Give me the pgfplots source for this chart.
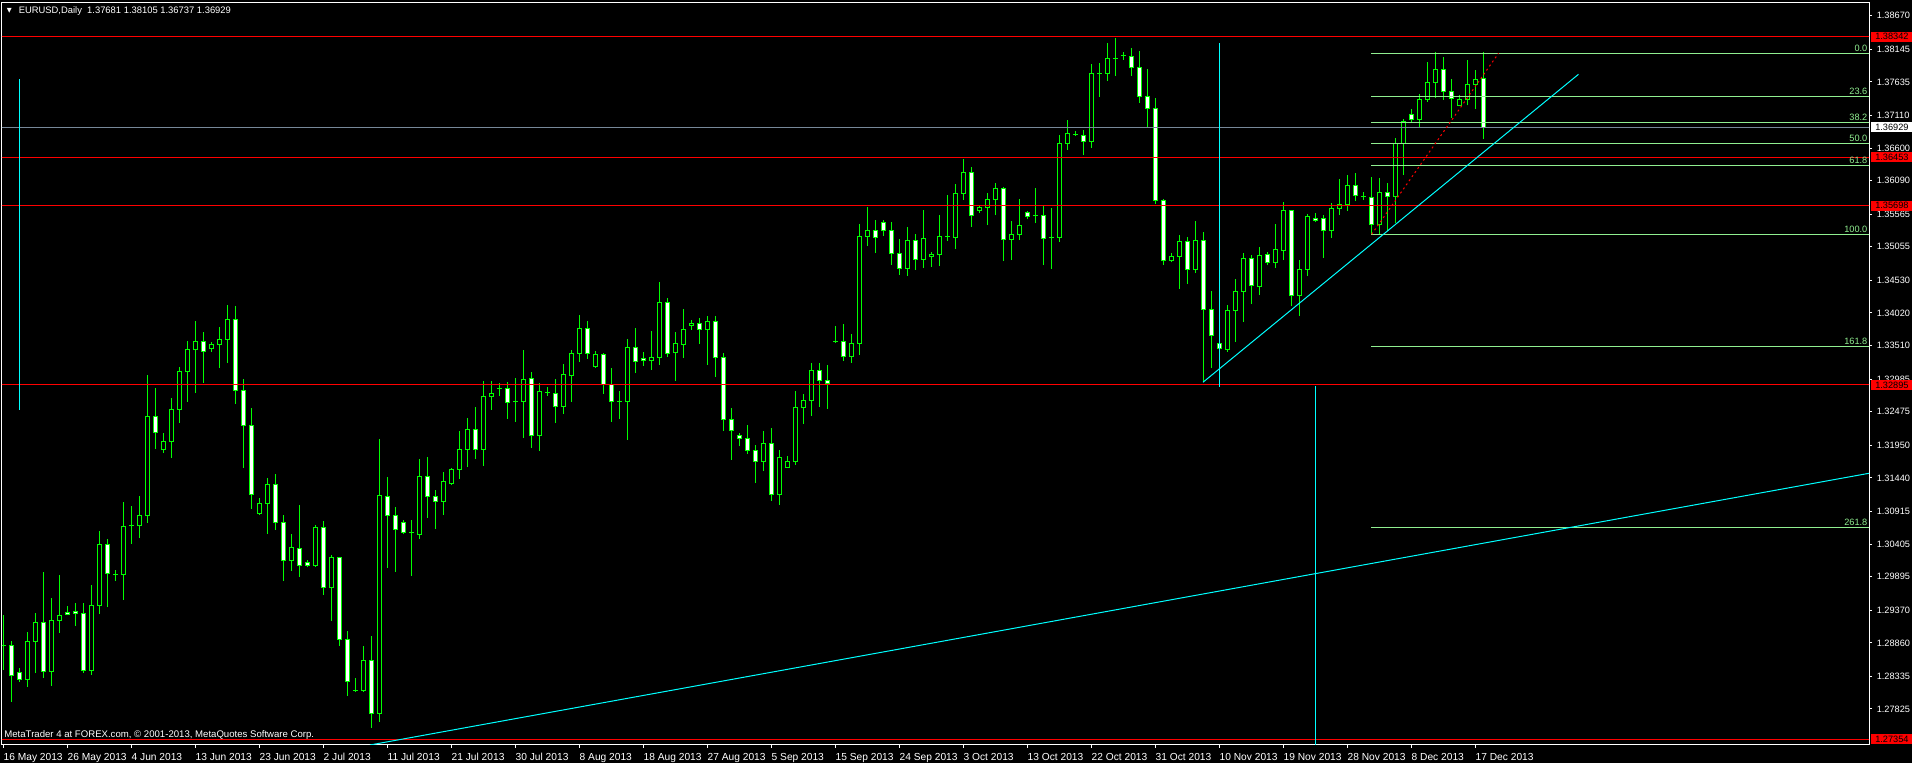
\documentclass[border=0pt]{standalone}
\usepackage{fontspec}
\setmainfont{Liberation Sans}
\newfontfamily\dejavu{DejaVu Sans}
\usepackage{pgfplots}
\usepackage{pgfplotstable}
\pgfplotsset{compat=1.18}
\definecolor{cgreen}{RGB}{0,255,0}
\definecolor{fibgreen}{RGB}{144,238,144}
\definecolor{mtred}{RGB}{255,0,0}
\definecolor{bidgray}{RGB}{119,136,153}
\definecolor{tcyan}{RGB}{0,255,255}
\newcommand{\lblfont}{\fontsize{4.6}{5}\selectfont}
\newcommand{\datefont}{\fontsize{5.1}{5.5}\selectfont}

\pgfplotstableread{
x o h l c
0 1.28815 1.29295 1.28435 1.28815
3 1.28290 1.29029 1.28174 1.28884
4 1.28884 1.29327 1.28393 1.29181
6 1.28415 1.29562 1.28189 1.29212
7 1.29206 1.29922 1.29019 1.29291
11 1.28430 1.29765 1.28357 1.29447
12 1.29447 1.30610 1.29316 1.30402
14 1.29927 1.30000 1.29828 1.29927
15 1.29927 1.31064 1.29535 1.30684
16 1.30693 1.31001 1.30407 1.30693
17 1.30693 1.31157 1.30505 1.30856
18 1.30849 1.33050 1.30740 1.32404
20 1.31882 1.32138 1.31835 1.32013
21 1.32007 1.32690 1.31756 1.32514
22 1.32514 1.33170 1.32304 1.33108
23 1.33101 1.33582 1.32632 1.33452
24 1.33446 1.33895 1.32773 1.33577
26 1.33467 1.33561 1.33410 1.33530
27 1.33530 1.33801 1.33164 1.33608
28 1.33608 1.34145 1.33242 1.33921
32 1.30881 1.31121 1.30860 1.31043
33 1.31037 1.31439 1.30568 1.31340
36 1.30152 1.30563 1.29989 1.30355
39 1.30067 1.30704 1.30052 1.30668
41 1.29723 1.30235 1.29202 1.30199
44 1.28111 1.28305 1.28096 1.28111
45 1.28111 1.28810 1.28096 1.28587
47 1.27758 1.32044 1.27627 1.31168
51 1.30584 1.30777 1.29911 1.30584
52 1.30558 1.31736 1.30490 1.31465
55 1.31075 1.31533 1.30865 1.31387
56 1.31356 1.31595 1.31334 1.31575
57 1.31575 1.32174 1.31428 1.31888
58 1.31888 1.32373 1.31616 1.32201
60 1.31888 1.32951 1.31631 1.32717
61 1.32717 1.32951 1.32507 1.32753
62 1.32846 1.32920 1.32721 1.32846
64 1.32628 1.33003 1.32315 1.32628
65 1.32632 1.33441 1.32065 1.32983
67 1.32101 1.32920 1.31861 1.32795
68 1.32773 1.32862 1.32726 1.32773
70 1.32554 1.33222 1.32440 1.33061
71 1.33039 1.33441 1.32628 1.33389
72 1.33389 1.33988 1.33253 1.33780
74 1.33180 1.33425 1.33159 1.33374
77 1.32639 1.32800 1.32362 1.32639
78 1.32632 1.33613 1.32033 1.33483
81 1.33274 1.33738 1.33128 1.33327
82 1.33327 1.34504 1.33211 1.34187
84 1.33399 1.33718 1.32961 1.33546
85 1.33524 1.34082 1.33320 1.33765
86 1.33827 1.33910 1.33754 1.33859
88 1.33758 1.33973 1.33211 1.33890
95 1.31694 1.32174 1.31553 1.31982
97 1.31178 1.31877 1.31021 1.31763
98 1.31606 1.31783 1.31595 1.31700
99 1.31700 1.32800 1.31642 1.32545
100 1.32539 1.32753 1.32288 1.32654
101 1.32654 1.33238 1.32413 1.33123
104 1.33571 1.33816 1.33555 1.33571
106 1.33336 1.33691 1.33242 1.33546
107 1.33546 1.35412 1.33367 1.35219
108 1.35219 1.35678 1.35072 1.35313
113 1.34719 1.35365 1.34603 1.35157
115 1.34859 1.35631 1.34728 1.35188
116 1.34906 1.34974 1.34744 1.34938
117 1.34938 1.35552 1.34759 1.35219
118 1.35219 1.35861 1.35150 1.35219
119 1.35204 1.36038 1.35025 1.35893
120 1.35893 1.36424 1.35792 1.36221
122 1.35626 1.35704 1.35588 1.35673
123 1.35667 1.35893 1.35396 1.35799
124 1.35799 1.36054 1.35552 1.35971
126 1.35172 1.35459 1.34848 1.35250
127 1.35250 1.35803 1.35161 1.35391
129 1.35537 1.35975 1.35427 1.35537
131 1.35197 1.35662 1.34712 1.35197
132 1.35197 1.36805 1.35135 1.36675
133 1.36675 1.37039 1.36575 1.36831
134 1.36809 1.36862 1.36789 1.36809
136 1.36706 1.37915 1.36606 1.37769
137 1.37769 1.37931 1.37403 1.37769
138 1.37769 1.38243 1.37654 1.38004
139 1.38004 1.38317 1.37732 1.38004
140 1.38045 1.38098 1.37982 1.38045
146 1.34844 1.34953 1.34812 1.34906
147 1.34906 1.35240 1.34400 1.35141
149 1.34703 1.35459 1.34650 1.35157
153 1.33452 1.34140 1.33410 1.34062
154 1.34056 1.34551 1.33571 1.34359
155 1.34353 1.34958 1.33884 1.34875
157 1.34431 1.35052 1.34301 1.34922
159 1.34806 1.35412 1.34723 1.35016
160 1.34994 1.35756 1.34848 1.35626
162 1.34290 1.34848 1.33977 1.34703
163 1.34703 1.35563 1.34603 1.35532
166 1.35307 1.35740 1.35197 1.35657
167 1.35657 1.36116 1.35552 1.35720
168 1.35720 1.36179 1.35620 1.36018
170 1.35839 1.35908 1.35787 1.35839
172 1.35407 1.36132 1.35244 1.35908
174 1.35846 1.36758 1.35423 1.36675
175 1.36675 1.37050 1.36184 1.37019
177 1.37044 1.37441 1.36919 1.37363
178 1.37363 1.37941 1.37325 1.37629
179 1.37629 1.38098 1.37388 1.37832
182 1.37269 1.37425 1.37258 1.37363
183 1.37363 1.37977 1.37269 1.37597
184 1.37597 1.37816 1.37216 1.37676
}\bull

\pgfplotstableread{
x o h l c
1 1.28826 1.28893 1.27939 1.28346
2 1.28399 1.28462 1.28252 1.28290
5 1.29181 1.29969 1.28315 1.28415
8 1.29338 1.29436 1.29295 1.29306
9 1.29353 1.29483 1.29128 1.29322
10 1.29322 1.29483 1.28393 1.28430
13 1.30402 1.30485 1.29425 1.29942
19 1.32404 1.32846 1.31893 1.32154
25 1.33577 1.33722 1.32929 1.33421
29 1.33921 1.34129 1.32601 1.32810
30 1.32810 1.32987 1.31600 1.32263
31 1.32263 1.32529 1.30954 1.31184
34 1.31340 1.31497 1.30626 1.30746
35 1.30746 1.30860 1.29833 1.30152
37 1.30339 1.31017 1.29895 1.30074
38 1.30120 1.30156 1.30042 1.30074
40 1.30668 1.30762 1.29609 1.29723
42 1.30199 1.30202 1.28815 1.28915
43 1.28915 1.29045 1.28033 1.28252
46 1.28587 1.28967 1.27533 1.27758
48 1.31153 1.31455 1.30036 1.30856
49 1.30856 1.30981 1.29973 1.30637
50 1.30746 1.30777 1.30558 1.30590
53 1.31465 1.31763 1.30818 1.31153
54 1.31153 1.31251 1.30646 1.31075
59 1.32201 1.32545 1.31741 1.31888
63 1.32842 1.32940 1.32362 1.32623
66 1.32998 1.33097 1.31908 1.32101
69 1.32763 1.32987 1.32299 1.32554
73 1.33780 1.33895 1.33300 1.33389
75 1.33374 1.33389 1.32753 1.32898
76 1.32904 1.33159 1.32315 1.32632
79 1.33483 1.33785 1.33081 1.33264
80 1.33311 1.33410 1.33191 1.33280
83 1.34187 1.34254 1.33336 1.33383
87 1.33859 1.33937 1.33539 1.33765
89 1.33890 1.33973 1.33023 1.33327
90 1.33327 1.33389 1.32179 1.32357
91 1.32357 1.32534 1.31725 1.32185
92 1.32107 1.32143 1.31939 1.32054
93 1.32060 1.32268 1.31814 1.31872
94 1.31872 1.31955 1.31365 1.31694
96 1.31982 1.32221 1.31084 1.31178
102 1.33123 1.33238 1.32554 1.32967
103 1.32967 1.33206 1.32518 1.32920
105 1.33577 1.33848 1.33274 1.33336
109 1.35313 1.35474 1.34963 1.35204
110 1.35438 1.35469 1.35229 1.35313
111 1.35313 1.35443 1.34775 1.34953
112 1.34953 1.35177 1.34619 1.34719
114 1.35157 1.35255 1.34697 1.34859
121 1.36221 1.36299 1.35369 1.35548
125 1.35971 1.35991 1.34838 1.35172
128 1.35595 1.35615 1.35490 1.35526
130 1.35541 1.35704 1.34770 1.35188
135 1.36800 1.36883 1.36496 1.36706
141 1.38029 1.38165 1.37732 1.37863
142 1.37863 1.38118 1.37305 1.37410
143 1.37410 1.37837 1.36930 1.37222
144 1.37222 1.37378 1.35729 1.35782
145 1.35782 1.35803 1.34775 1.34844
148 1.35141 1.35204 1.34478 1.34703
150 1.35157 1.35286 1.32936 1.34078
151 1.34078 1.34364 1.33164 1.33671
152 1.33546 1.33676 1.33363 1.33457
156 1.34875 1.34927 1.34160 1.34446
158 1.34938 1.34978 1.34770 1.34806
161 1.35626 1.35630 1.34129 1.34290
164 1.35501 1.35584 1.35443 1.35463
165 1.35501 1.35548 1.34884 1.35307
169 1.36018 1.36205 1.35776 1.35861
171 1.35830 1.36147 1.35255 1.35407
173 1.35908 1.36049 1.35297 1.35846
176 1.37128 1.37207 1.37013 1.37044
180 1.37832 1.38020 1.37356 1.37488
181 1.37488 1.37676 1.37075 1.37378
185 1.37681 1.38105 1.36737 1.36929
}\bear

\begin{document}
\begin{tikzpicture}
\fill[black] (0pt,0pt) rectangle (956pt,381.5pt);
\useasboundingbox (0pt,0pt) rectangle (956pt,381.5pt);
\begin{axis}[
  at={(1pt,9pt)}, anchor=south west,
  scale only axis, width=933.5pt, height=371.25pt,
  xmin=-0.1625, xmax=233.2125, ymin=1.27262, ymax=1.38877,
  axis background/.style={fill=black},
  axis line style={white, line width=0.5pt},
  tick style={white, line width=0.5pt},
  major tick length=1.5pt, tick align=outside,
  xtick pos=bottom, ytick pos=right, yticklabel pos=right,
  scaled y ticks=false, scaled x ticks=false,
  xtick={0,8,...,184},
  xticklabels={16 May 2013,26 May 2013,4 Jun 2013,13 Jun 2013,23 Jun 2013,2 Jul 2013,11 Jul 2013,21 Jul 2013,30 Jul 2013,8 Aug 2013,18 Aug 2013,27 Aug 2013,5 Sep 2013,15 Sep 2013,24 Sep 2013,3 Oct 2013,13 Oct 2013,22 Oct 2013,31 Oct 2013,10 Nov 2013,19 Nov 2013,28 Nov 2013,8 Dec 2013,17 Dec 2013},
  ytick={1.38670,1.38145,1.37635,1.37110,1.36600,1.36090,1.35565,1.35055,1.34530,1.34020,1.33510,1.32985,1.32475,1.31950,1.31440,1.30915,1.30405,1.29895,1.29370,1.28860,1.28335,1.27825},
  yticklabels={1.38670,1.38145,1.37635,1.37110,1.36600,1.36090,1.35565,1.35055,1.34530,1.34020,1.33510,1.32985,1.32475,1.31950,1.31440,1.30915,1.30405,1.29895,1.29370,1.28860,1.28335,1.27825},
  xticklabel style={white, font=\datefont, anchor=north west, inner sep=0pt, yshift=-2.5pt, xshift=0pt},
  yticklabel style={white, font=\lblfont, anchor=west, inner sep=0pt, xshift=2.2pt},
]
% wicks
\addplot[draw=none, mark=none, error bars/.cd, y dir=plus, y explicit, error mark=none, error bar style={draw=cgreen, line width=0.5pt}]
  table[x=x, y=l, y error plus expr=\thisrow{h}-\thisrow{l}] {\bull};
\addplot[draw=none, mark=none, error bars/.cd, y dir=plus, y explicit, error mark=none, error bar style={draw=cgreen, line width=0.5pt}]
  table[x=x, y=l, y error plus expr=\thisrow{h}-\thisrow{l}] {\bear};
% body outlines
\addplot[draw=none, mark=none, error bars/.cd, y dir=plus, y explicit, error mark=none, error bar style={draw=cgreen, line width=2.5pt}]
  table[x=x, y expr=\thisrow{o}-0.000078, y error plus expr=\thisrow{c}-\thisrow{o}+0.000156] {\bull};
\addplot[draw=none, mark=none, error bars/.cd, y dir=plus, y explicit, error mark=none, error bar style={draw=cgreen, line width=2.5pt}]
  table[x=x, y expr=\thisrow{c}-0.000078, y error plus expr=\thisrow{o}-\thisrow{c}+0.000156] {\bear};
% body fills
\addplot[draw=none, mark=none, error bars/.cd, y dir=plus, y explicit, error mark=none, error bar style={draw=black, line width=1.5pt}]
  table[x=x, y expr=\thisrow{o}+0.000078, y error plus expr={max(\thisrow{c}-\thisrow{o}-0.000156,0)}] {\bull};
\addplot[draw=none, mark=none, error bars/.cd, y dir=plus, y explicit, error mark=none, error bar style={draw=white, line width=1.5pt}]
  table[x=x, y expr=\thisrow{c}+0.000078, y error plus expr={max(\thisrow{o}-\thisrow{c}-0.000156,0)}] {\bear};

% horizontal lines
\addplot[mtred, line width=0.5pt] coordinates {(-5,1.38342) (240,1.38342)};
\addplot[mtred, line width=0.5pt] coordinates {(-5,1.36453) (240,1.36453)};
\addplot[mtred, line width=0.5pt] coordinates {(-5,1.35698) (240,1.35698)};
\addplot[mtred, line width=0.5pt] coordinates {(-5,1.32895) (240,1.32895)};
\addplot[mtred, line width=0.5pt] coordinates {(-5,1.27354) (240,1.27354)};
\addplot[bidgray, line width=0.5pt] coordinates {(-5,1.36929) (240,1.36929)};
% fibonacci levels
\addplot[fibgreen, line width=0.5pt] coordinates {(171,1.38082) (240,1.38082)};
\addplot[fibgreen, line width=0.5pt] coordinates {(171,1.37414) (240,1.37414)};
\addplot[fibgreen, line width=0.5pt] coordinates {(171,1.36999) (240,1.36999)};
\addplot[fibgreen, line width=0.5pt] coordinates {(171,1.36667) (240,1.36667)};
\addplot[fibgreen, line width=0.5pt] coordinates {(171,1.36332) (240,1.36332)};
\addplot[fibgreen, line width=0.5pt] coordinates {(171,1.35251) (240,1.35251)};
\addplot[fibgreen, line width=0.5pt] coordinates {(171,1.33501) (240,1.33501)};
\addplot[fibgreen, line width=0.5pt] coordinates {(171,1.30670) (240,1.30670)};
\addplot[mtred, line width=0.5pt, dash pattern=on 1pt off 1.5pt] coordinates {(171.05,1.35251) (186.9,1.38082)};
% trend lines
\addplot[tcyan, line width=0.5pt] coordinates {(149.96,1.32936) (196.9,1.37754)};
\addplot[tcyan, line width=0.5pt] coordinates {(45.84,1.27262) (233.21,1.31512)};
\addplot[tcyan, line width=0.5pt] coordinates {(2,1.37680) (2,1.32503)};
\addplot[tcyan, line width=0.5pt] coordinates {(152,1.38239) (152,1.32862)};
\addplot[tcyan, line width=0.5pt] coordinates {(164,1.32878) (164,1.27262)};

\foreach \v/\t in {1.38082/0.0,1.37414/23.6,1.36999/38.2,1.36667/50.0,1.36332/61.8,1.35251/100.0,1.33501/161.8,1.30670/261.8}{
  \edef\temp{\noexpand\node[anchor=base east, text=fibgreen, font=\noexpand\lblfont, inner sep=0pt] at (axis cs:233.05,\v) [yshift=1pt] {\t};}
  \temp
}
\coordinate (pa) at (axis cs:233.2125,1.38342);
\coordinate (pb) at (axis cs:233.2125,1.36929);
\coordinate (pc) at (axis cs:233.2125,1.36453);
\coordinate (pd) at (axis cs:233.2125,1.35698);
\coordinate (pe) at (axis cs:233.2125,1.32895);
\coordinate (pf) at (axis cs:233.2125,1.27354);
\end{axis}
\foreach \p/\t in {pa/1.38342,pc/1.36453,pd/1.35698,pe/1.32895,pf/1.27354}{
  \node[fill=mtred, text=black, font=\lblfont, inner sep=0pt, minimum width=20.5pt, minimum height=5pt, anchor=west] at ([xshift=1pt]\p) {\t};
}
\node[fill=white, text=black, font=\lblfont, inner sep=0pt, minimum width=20.5pt, minimum height=5pt, anchor=west] at ([xshift=1pt]pb) {1.36929};
\node[text=white, inner sep=0pt] at (4.65pt,376.2pt) {\dejavu\fontsize{3.2}{4}\selectfont ▼};
\node[text=white, font=\fontsize{4.7}{5}\selectfont, anchor=base west, inner sep=0pt] at (9.2pt,374.5pt) {EURUSD,Daily\ \ 1.37681 1.38105 1.36737 1.36929};
\node[text=white, font=\fontsize{4.8}{5}\selectfont, anchor=base west, inner sep=0pt] at (2pt,12.7pt) {MetaTrader 4 at FOREX.com, \textcopyright{} 2001-2013, MetaQuotes Software Corp.};
\end{tikzpicture}
\end{document}
